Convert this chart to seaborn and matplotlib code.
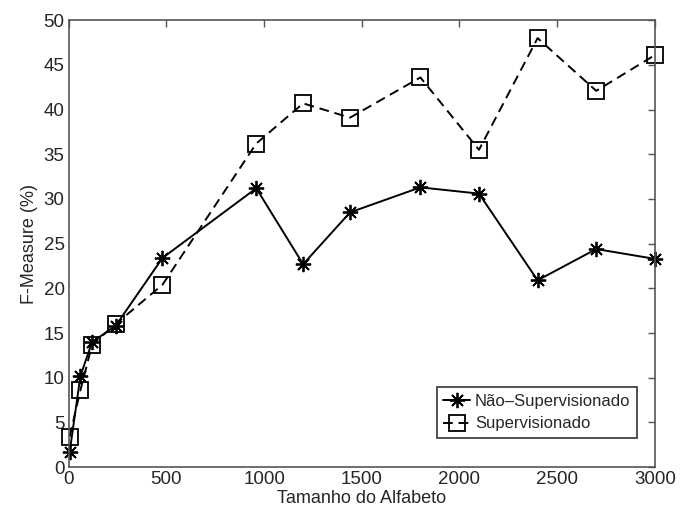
import numpy as np
import pandas as pd
import seaborn as sns
import matplotlib
matplotlib.use('Agg')
import matplotlib.pyplot as plt

# Dados
tamanho = [5, 60, 120, 240, 480, 960, 1200, 1440, 1800, 2100, 2400, 2700, 3000]
nao_sup = [1.7, 10.2, 14.0, 15.8, 23.4, 31.2, 22.7, 28.5, 31.3, 30.6, 20.9, 24.4, 23.3]
sup = [3.4, 8.6, 13.7, 16.0, 20.4, 36.2, 40.7, 39.1, 43.6, 35.5, 48.0, 42.1, 46.1]

sns.set_style('white')
plt.rcParams['font.family'] = ['Liberation Sans', 'DejaVu Sans']

fig = plt.figure(figsize=(6.8, 5.19), dpi=100)
ax = fig.add_axes([0.101, 0.100, 0.862, 0.861])

sns.lineplot(x=tamanho, y=nao_sup, ax=ax, color='black', linestyle='-', linewidth=1.4,
             marker=(8, 2, 0), markersize=11, markeredgewidth=1.3, markeredgecolor='black',
             label='Não–Supervisionado', clip_on=False)
sns.lineplot(x=tamanho, y=sup, ax=ax, color='black', linewidth=1.4, dashes=(5, 3),
             marker='s', markersize=12, markerfacecolor='none', markeredgewidth=1.3,
             markeredgecolor='black', label='Supervisionado', clip_on=False)

ax.set_xlim(0, 3000)
ax.set_ylim(0, 50)
ax.set_xticks(np.arange(0, 3001, 500))
ax.set_yticks(np.arange(0, 51, 5))
ax.set_xlabel('Tamanho do Alfabeto', fontsize=13, labelpad=1)
ax.set_ylabel('F-Measure (%)', fontsize=13, labelpad=4)
ax.tick_params(direction='in', length=5, labelsize=13.5, color='#555555', width=1,
               top=True, right=True, pad=3)
for s in ax.spines.values():
    s.set_color('#555555')
    s.set_linewidth(1.2)

leg = ax.legend(loc='lower right', bbox_to_anchor=(0.97, 0.065), fontsize=12,
                frameon=True, fancybox=False, edgecolor='black', handlelength=1.6,
                borderpad=0.4, labelspacing=0.45, handletextpad=0.3, borderaxespad=0)
leg.get_frame().set_linewidth(1.2)

fig.savefig('out.png', dpi=100)
